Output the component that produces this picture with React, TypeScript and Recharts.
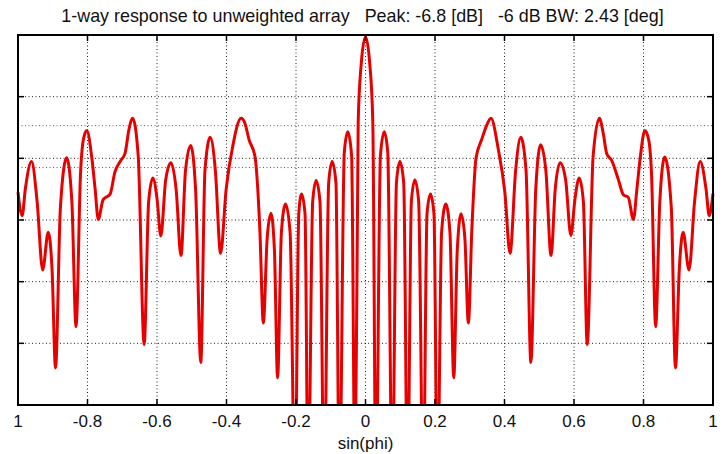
import { LineChart, Line, XAxis, YAxis, CartesianGrid, ReferenceLine } from 'recharts'

// sin(phi) sample positions
const sinPhi = [
  -1.0, -0.988, -0.979, -0.961, -0.945, -0.929, -0.913, -0.902, -0.892, -0.878,
  -0.86, -0.845, -0.833, -0.82, -0.812, -0.802, -0.788, -0.778, -0.769, -0.755, -0.735, -0.721,
  -0.706, -0.692, -0.681, -0.67, -0.654, -0.637, -0.624, -0.612, -0.6, -0.589,
  -0.575, -0.56, -0.545, -0.531, -0.518, -0.503, -0.489, -0.474, -0.462, -0.447,
  -0.432, -0.417, -0.401, -0.382, -0.358, -0.347, -0.335, -0.318, -0.304, -0.294,
  -0.283, -0.272, -0.262, -0.253, -0.242, -0.23, -0.217, -0.203, -0.192, -0.184,
  -0.174, -0.165, -0.152, -0.142, -0.131, -0.119, -0.106, -0.096, -0.085, -0.075,
  -0.061, -0.051, -0.04, -0.03, -0.021, -0.012, 0,
  0.012, 0.021, 0.03, 0.043, 0.054, 0.064, 0.077, 0.089, 0.099, 0.11,
  0.121, 0.132, 0.142, 0.153, 0.166, 0.177, 0.187, 0.197, 0.207, 0.219,
  0.231, 0.243, 0.254, 0.264, 0.275, 0.286, 0.296, 0.306, 0.318, 0.334,
  0.349, 0.361, 0.382, 0.401, 0.416, 0.432, 0.447, 0.462, 0.476, 0.49,
  0.504, 0.519, 0.534, 0.546, 0.56, 0.576, 0.591, 0.603, 0.615, 0.627,
  0.638, 0.655, 0.673, 0.684, 0.694, 0.708, 0.728, 0.742, 0.756, 0.771,
  0.781, 0.791, 0.804, 0.815, 0.823, 0.835, 0.847, 0.861, 0.88, 0.892, 0.903, 0.914,
  0.931, 0.947, 0.963, 0.98, 0.989, 1.0,
]

// response in dB (nulls below the frame are clipped)
const responseDb = [
  -25.5, -29.3, -25.0, -20.5, -27.0, -38.1, -32.0, -38.0, -54.0, -28.0,
  -19.9, -27.0, -47.3, -22.4, -17.0, -15.5, -19.7, -25.0, -29.9, -26.7, -25.8, -22.2,
  -20.5, -19.2, -15.4, -13.5, -19.7, -50.2, -27.0, -23.2, -26.5, -32.6,
  -23.5, -20.7, -25.0, -35.8, -22.0, -17.9, -25.0, -53.1, -22.0, -16.6,
  -22.0, -35.4, -25.0, -18.0, -13.5, -14.3, -17.0, -19.7, -31.6, -46.7,
  -33.0, -28.9, -35.0, -55.6, -32.0, -27.4, -32.0, -75, -29.0, -25.8,
  -29.0, -75, -27.0, -23.6, -27.0, -75, -24.0, -20.5, -24.0, -75,
  -19.0, -15.7, -19.5, -75, -14.0, -4.5, -0.3,
  -4.5, -14.0, -75, -19.5, -15.7, -19.0, -75, -24.0, -20.5, -24.0,
  -75, -27.0, -23.5, -27.0, -75, -29.0, -25.8, -29.0, -75, -32.0,
  -27.4, -32.0, -55.6, -35.0, -29.0, -33.0, -46.7, -31.6, -20.0, -17.0,
  -14.6, -13.5, -18.5, -25.5, -35.4, -22.0, -16.6, -22.0, -53.1, -25.0,
  -17.8, -22.0, -35.8, -25.0, -20.7, -23.5, -32.5, -26.5, -23.2, -27.0,
  -50.2, -19.7, -13.5, -15.9, -19.2, -20.3, -23.5, -25.9, -26.3, -29.9,
  -25.0, -19.7, -15.5, -17.0, -22.4, -47.3, -27.0, -19.8, -28.0, -54.0, -38.0, -32.0,
  -38.1, -27.0, -20.5, -25.0, -29.3, -25.7,
]

const xTicks = [-1, -0.8, -0.6, -0.4, -0.2, 0, 0.2, 0.4, 0.6, 0.8, 1]
const yTicks = [-60, -50, -40, -30, -20, -10, 0]
const refLevelGreen = -14.7
const refLevelBlue = -21.5

const data = sinPhi.map((s, i) => ({ s, db: responseDb[i] }))

const font = '"Liberation Sans", Arial, sans-serif'
const fmtX = (v: number) => (v === -1 ? '1' : String(Number(v.toFixed(1))))
const blank = () => ''
const axisLine = { stroke: '#000', strokeWidth: 2 }
const tickLine = { stroke: '#000', strokeWidth: 1.5 }

// chart margins; the plot frame overlay uses the same numbers
const M = { top: 35, right: 12, bottom: 0, left: 17 }
const W = 725
const H = 454
const X_AXIS_H = 49
const Y_AXIS_W = 1

// inward tick length on the top / right frame edges, in data units (~6px)
const tickLenX = 0.0173
const tickLenY = 0.97

export default function App() {
  return (
    <div style={{ position: 'absolute', left: 0, top: 0, width: W, height: H, background: '#fff', fontFamily: font }}>
      <div
        style={{
          position: 'absolute', top: 6, left: 0, width: W, textAlign: 'center',
          fontSize: 17.9, lineHeight: '20px', whiteSpace: 'pre', color: '#111',
        }}
      >
        {'1-way response to unweighted array   Peak: -6.8 [dB]   -6 dB BW: 2.43 [deg]'}
      </div>
      <LineChart width={W} height={H} data={data} margin={M}>
        <CartesianGrid stroke="#222" strokeDasharray="1 2.5" />
        <ReferenceLine y={refLevelGreen} stroke="#2f7d3a" strokeDasharray="1 2.5" />
        <ReferenceLine y={refLevelBlue} stroke="#4a3fb0" strokeDasharray="1 2.5" />
        <XAxis
          dataKey="s" type="number" domain={[-1, 1]} ticks={xTicks} height={X_AXIS_H}
          tickFormatter={fmtX} tickSize={-6} tickMargin={16}
          axisLine={axisLine} tickLine={tickLine}
          tick={{ fill: '#111', fontSize: 17, fontFamily: font }}
          label={{ value: 'sin(phi)', position: 'insideBottom', offset: 5, fontSize: 17, fill: '#111', fontFamily: font }}
        />
        <YAxis
          type="number" domain={[-60, 0]} ticks={yTicks} width={Y_AXIS_W} allowDataOverflow
          tickFormatter={blank} tickSize={-6} axisLine={axisLine} tickLine={tickLine}
        />
        <Line
          dataKey="db" type="monotone" stroke="#e60000" strokeWidth={3}
          dot={false} isAnimationActive={false}
        />
        {/* inward ticks on the top and right frame edges */}
        {xTicks.slice(1, -1).map((t) => (
          <ReferenceLine
            key={`tx${t}`} stroke="#000" strokeWidth={1.5} ifOverflow="visible"
            segment={[{ x: t, y: 0 }, { x: t, y: -tickLenY }]}
          />
        ))}
        {yTicks.slice(1, -1).map((t) => (
          <ReferenceLine
            key={`ty${t}`} stroke="#000" strokeWidth={1.5} ifOverflow="visible"
            segment={[{ x: 1, y: t }, { x: 1 - tickLenX, y: t }]}
          />
        ))}
      </LineChart>
      {/* plot frame */}
      <div
        style={{
          position: 'absolute', pointerEvents: 'none', boxSizing: 'border-box',
          left: M.left + Y_AXIS_W - 1, top: M.top - 1,
          width: W - M.left - Y_AXIS_W - M.right + 2, height: H - M.top - X_AXIS_H + 2,
          border: '2px solid #000',
        }}
      />
    </div>
  )
}
